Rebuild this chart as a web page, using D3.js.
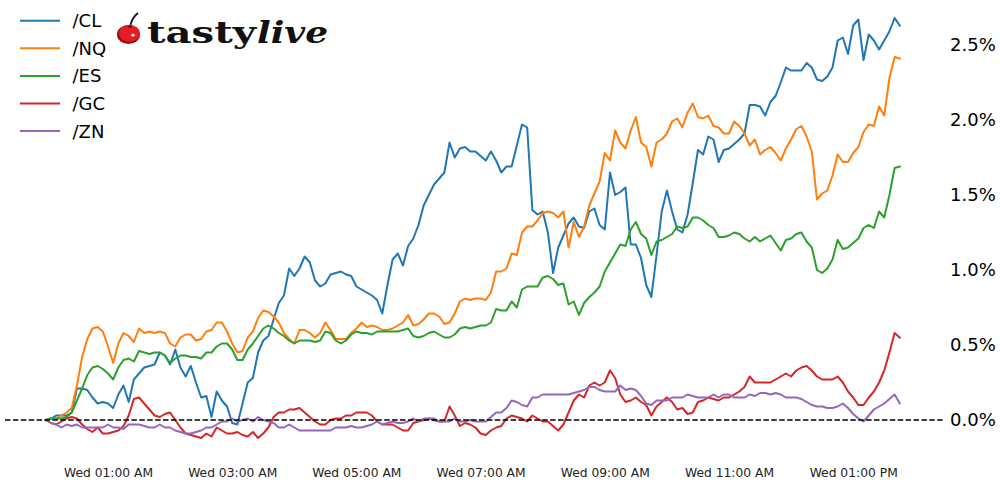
<!DOCTYPE html>
<html>
<head>
<meta charset="utf-8">
<script src="https://cdn.jsdelivr.net/npm/d3@7"></script>
<style>
  html, body { margin: 0; padding: 0; background: #fff; }
  svg { display: block; }
</style>
</head>
<body>
<svg id="chart" width="1000" height="488"></svg>
<script>
// ---- data (percent change), 5-minute bars from Wed 00:00 ----
const startTime = new Date(2023, 0, 4, 0, 0); // a Wednesday
const stepMinutes = 5;
const seriesNames = ["/CL", "/NQ", "/ES", "/GC", "/ZN"];
const seriesColors = ["#1f77b4", "#ff7f0e", "#2ca02c", "#d62728", "#9467bd"];

const cl = [0.00,0.01,0.03,0.03,0.03,0.05,0.21,0.21,0.20,0.15,
0.11,0.12,0.11,0.08,0.17,0.23,0.12,0.27,0.31,0.35,
0.36,0.37,0.45,0.43,0.37,0.47,0.35,0.29,0.36,0.25,
0.15,0.16,0.02,0.19,0.13,0.09,-0.02,-0.03,0.11,0.25,
0.28,0.45,0.53,0.56,0.67,0.78,0.83,1.01,0.96,1.01,
1.09,1.05,0.93,0.89,0.91,0.97,0.98,0.99,0.97,0.96,
0.89,0.87,0.85,0.83,0.80,0.71,0.90,1.07,1.11,1.03,
1.16,1.21,1.30,1.43,1.50,1.57,1.61,1.65,1.85,1.75,
1.81,1.82,1.79,1.79,1.76,1.73,1.79,1.73,1.65,1.69,
1.69,1.83,1.97,1.95,1.40,1.37,1.39,1.25,0.98,1.15,
1.23,1.31,1.35,1.29,1.28,1.39,1.41,1.30,1.27,1.65,
1.50,1.52,1.55,1.17,1.17,1.08,0.90,0.82,1.10,1.39,
1.53,1.39,1.27,1.25,1.37,1.58,1.80,1.77,1.89,1.87,
1.72,1.80,1.81,1.84,1.87,1.91,2.10,2.10,2.09,2.03,
2.12,2.16,2.25,2.35,2.33,2.33,2.33,2.38,2.35,2.27,
2.26,2.29,2.35,2.53,2.55,2.44,2.63,2.67,2.40,2.57,
2.53,2.47,2.53,2.59,2.68,2.63];

const nq = [0.00,0.01,0.01,0.03,0.05,0.08,0.23,0.42,0.54,0.61,
0.62,0.59,0.49,0.38,0.51,0.58,0.56,0.52,0.61,0.58,
0.59,0.58,0.59,0.58,0.51,0.49,0.55,0.57,0.57,0.53,
0.54,0.59,0.60,0.65,0.65,0.59,0.51,0.45,0.46,0.55,
0.59,0.68,0.73,0.72,0.69,0.65,0.58,0.54,0.51,0.60,
0.60,0.58,0.55,0.58,0.65,0.60,0.54,0.54,0.54,0.58,
0.61,0.65,0.62,0.63,0.62,0.60,0.60,0.61,0.63,0.65,
0.70,0.63,0.64,0.67,0.71,0.71,0.69,0.64,0.65,0.71,
0.79,0.81,0.80,0.81,0.81,0.80,0.85,0.99,0.99,1.01,
1.11,1.10,1.25,1.29,1.29,1.33,1.38,1.39,1.38,1.35,
1.39,1.15,1.32,1.22,1.29,1.43,1.51,1.59,1.78,1.73,
1.93,1.85,1.81,1.93,2.02,1.85,1.82,1.69,1.85,1.87,
1.91,1.99,2.01,1.95,2.05,2.11,2.02,2.01,2.03,1.96,
1.95,1.91,1.91,1.99,1.96,1.91,1.83,1.87,1.77,1.80,
1.82,1.78,1.73,1.81,1.87,1.94,1.96,1.89,1.79,1.47,
1.51,1.53,1.63,1.77,1.72,1.72,1.78,1.82,1.92,1.97,
1.96,2.09,2.03,2.28,2.42,2.41];

const es = [0.00,0.01,0.01,0.01,0.02,0.05,0.13,0.21,0.30,0.35,
0.36,0.34,0.31,0.27,0.35,0.40,0.41,0.39,0.46,0.45,
0.44,0.45,0.45,0.43,0.38,0.41,0.43,0.43,0.42,0.42,
0.41,0.45,0.45,0.49,0.51,0.51,0.47,0.40,0.40,0.47,
0.51,0.56,0.61,0.63,0.61,0.58,0.56,0.53,0.51,0.53,
0.53,0.53,0.52,0.53,0.59,0.58,0.53,0.51,0.53,0.57,
0.59,0.58,0.58,0.57,0.59,0.59,0.59,0.59,0.59,0.60,
0.61,0.56,0.55,0.56,0.58,0.59,0.57,0.55,0.55,0.57,
0.61,0.62,0.61,0.62,0.63,0.63,0.65,0.74,0.73,0.73,
0.79,0.75,0.87,0.89,0.89,0.89,0.95,0.96,0.94,0.90,
0.91,0.77,0.79,0.70,0.78,0.82,0.85,0.89,0.99,1.05,
1.11,1.17,1.16,1.27,1.32,1.24,1.21,1.10,1.19,1.20,
1.22,1.24,1.29,1.28,1.29,1.35,1.35,1.33,1.30,1.28,
1.22,1.22,1.23,1.25,1.24,1.21,1.19,1.22,1.19,1.21,
1.23,1.18,1.13,1.20,1.21,1.24,1.25,1.19,1.15,1.00,
0.98,1.01,1.07,1.20,1.14,1.15,1.18,1.21,1.28,1.30,
1.28,1.39,1.35,1.50,1.68,1.69];

const gc = [0.00,-0.02,-0.03,-0.01,0.01,0.02,0.01,-0.03,-0.06,-0.08,
-0.05,-0.09,-0.09,-0.08,-0.07,-0.04,0.03,0.14,0.15,0.11,
0.07,0.03,0.02,0.04,0.05,0.00,-0.05,-0.09,-0.10,-0.11,
-0.12,-0.09,-0.11,-0.05,-0.07,-0.09,-0.09,-0.08,-0.10,-0.11,
-0.08,-0.12,-0.09,-0.05,0.02,0.05,0.05,0.07,0.07,0.08,
0.05,0.02,-0.01,-0.03,-0.03,0.00,0.01,0.01,0.03,0.03,
0.05,0.05,0.05,0.03,-0.01,-0.03,-0.03,-0.03,-0.05,-0.07,
-0.07,-0.02,-0.01,0.00,0.01,0.00,-0.01,-0.01,0.09,0.03,
-0.04,-0.02,-0.03,-0.05,-0.09,-0.10,-0.07,-0.05,-0.04,0.01,
0.03,0.02,0.01,-0.01,0.03,0.01,-0.01,-0.01,-0.04,-0.07,
-0.03,0.05,0.13,0.17,0.15,0.23,0.25,0.23,0.25,0.33,
0.28,0.17,0.12,0.13,0.15,0.12,0.10,0.03,0.09,0.12,
0.15,0.12,0.07,0.08,0.04,0.05,0.12,0.13,0.15,0.14,
0.13,0.15,0.15,0.17,0.19,0.22,0.29,0.25,0.25,0.25,
0.25,0.27,0.29,0.31,0.29,0.33,0.35,0.36,0.33,0.29,
0.27,0.27,0.27,0.29,0.25,0.19,0.15,0.10,0.10,0.15,
0.19,0.25,0.33,0.45,0.58,0.55];

const zn = [0.00,-0.02,-0.03,-0.05,-0.03,-0.04,-0.03,-0.05,-0.05,-0.05,
-0.05,-0.05,-0.03,-0.05,-0.05,-0.06,-0.03,-0.03,-0.03,-0.04,
-0.05,-0.05,-0.03,-0.05,-0.05,-0.07,-0.08,-0.09,-0.09,-0.08,
-0.07,-0.05,-0.05,-0.03,-0.01,-0.01,0.01,-0.01,0.00,0.01,
-0.01,0.02,0.00,-0.01,-0.02,-0.05,-0.05,-0.03,-0.05,-0.07,
-0.07,-0.07,-0.07,-0.07,-0.07,-0.07,-0.05,-0.05,-0.05,-0.04,
-0.05,-0.05,-0.04,-0.03,-0.01,-0.03,-0.02,-0.01,-0.02,-0.02,
-0.01,0.01,-0.01,0.01,0.01,0.01,-0.01,-0.01,-0.01,0.01,
-0.01,-0.01,0.00,-0.01,-0.01,-0.01,0.02,0.05,0.05,0.08,
0.13,0.12,0.10,0.09,0.15,0.15,0.17,0.17,0.17,0.17,
0.17,0.17,0.18,0.19,0.20,0.22,0.22,0.20,0.19,0.19,
0.19,0.23,0.20,0.21,0.20,0.16,0.11,0.10,0.13,0.13,
0.13,0.15,0.15,0.15,0.17,0.16,0.15,0.15,0.15,0.17,
0.15,0.17,0.17,0.15,0.15,0.15,0.17,0.16,0.18,0.18,
0.17,0.18,0.17,0.15,0.15,0.15,0.14,0.12,0.10,0.09,
0.09,0.08,0.08,0.09,0.11,0.08,0.04,0.01,-0.01,0.03,
0.07,0.09,0.11,0.14,0.17,0.11];

const seriesValues = [cl, nq, es, gc, zn];
const yTickValues = [0.0, 0.5, 1.0, 1.5, 2.0, 2.5];
const xTickHours = [1, 3, 5, 7, 9, 11, 13];

// ---- drawing ----
const svg = d3.select("#chart");
const times = cl.map((_, i) => d3.timeMinute.offset(startTime, i * stepMinutes));

const x = d3.scaleTime()
  .domain([startTime, d3.timeHour.offset(startTime, 14)])
  .range([45.9, 45.9 + 62.1 * 14]);
const y = d3.scaleLinear().domain([0, 2.5]).range([420, 45]);

// zero line
const lineGen = d3.line().x((d, i) => x(times[i])).y(d => y(d));

seriesValues.forEach((vals, k) => {
  svg.append("path")
    .datum(vals)
    .attr("d", lineGen)
    .attr("fill", "none")
    .attr("stroke", seriesColors[k])
    .attr("stroke-width", 2)
    .attr("stroke-linejoin", "round")
    .attr("stroke-linecap", "square");
});

svg.append("line")
  .attr("x1", 5).attr("x2", 945)
  .attr("y1", y(0)).attr("y2", y(0))
  .attr("stroke", "#000")
  .attr("stroke-width", 1.5)
  .attr("stroke-dasharray", "5.5,2.4");

// right y axis
const yAxis = svg.append("g")
  .attr("transform", "translate(945,0)")
  .call(d3.axisRight(y).tickValues(yTickValues)
    .tickFormat(d => d.toFixed(1) + "%").tickSize(0).tickPadding(5));
yAxis.select(".domain").remove();
yAxis.selectAll("text")
  .attr("font-family", "DejaVu Sans")
  .attr("font-size", 18)
  .attr("fill", "#000");

// bottom x axis
const xTickDates = xTickHours.map(h => d3.timeHour.offset(startTime, h));
const xAxis = svg.append("g")
  .attr("transform", "translate(0,468)")
  .call(d3.axisBottom(x).tickValues(xTickDates)
    .tickFormat(d3.timeFormat("%a %I:%M %p")).tickSize(0).tickPadding(0));
xAxis.select(".domain").remove();
xAxis.selectAll("text")
  .attr("font-family", "DejaVu Sans")
  .attr("font-size", 12.3)
  .attr("fill", "#222");

// legend
const legend = svg.append("g");
seriesNames.forEach((name, k) => {
  const ly = 20.7 + k * 27.6;
  legend.append("line")
    .attr("x1", 20).attr("x2", 60)
    .attr("y1", ly).attr("y2", ly)
    .attr("stroke", seriesColors[k]).attr("stroke-width", 2);
  legend.append("text")
    .attr("x", 72.5).attr("y", ly + 6.5)
    .attr("font-family", "DejaVu Sans")
    .attr("font-size", 18)
    .attr("fill", "#000")
    .text(name);
});

// tastylive logo
const logo = svg.append("g");
logo.append("path")
  .attr("d", "M130,27 C131,21 134,16 138,13")
  .attr("fill", "none").attr("stroke", "#111").attr("stroke-width", 1.8);
logo.append("ellipse")
  .attr("cx", 128.5).attr("cy", 34.5).attr("rx", 11.5).attr("ry", 9.5)
  .attr("fill", "#9e0b10");
logo.append("ellipse")
  .attr("cx", 129.3).attr("cy", 33.3).attr("rx", 10.5).attr("ry", 8.4)
  .attr("fill", "#e41e26");
logo.append("ellipse")
  .attr("cx", 130).attr("cy", 26.8).attr("rx", 2.2).attr("ry", 1.2)
  .attr("fill", "#7a0a0d");
logo.append("ellipse")
  .attr("cx", 133).attr("cy", 35.2).attr("rx", 1.7).attr("ry", 1.4)
  .attr("fill", "#fff");
logo.append("text")
  .attr("x", 147).attr("y", 42.5)
  .attr("font-family", "DejaVu Serif")
  .attr("font-weight", "bold")
  .attr("font-size", 30)
  .attr("textLength", 109)
  .attr("lengthAdjust", "spacingAndGlyphs")
  .attr("fill", "#111")
  .text("tasty");
logo.append("text")
  .attr("x", 257).attr("y", 42.5)
  .attr("font-family", "DejaVu Serif")
  .attr("font-weight", "bold")
  .attr("font-style", "italic")
  .attr("font-size", 30)
  .attr("textLength", 71)
  .attr("lengthAdjust", "spacingAndGlyphs")
  .attr("fill", "#111")
  .text("live");
</script>
</body>
</html>
